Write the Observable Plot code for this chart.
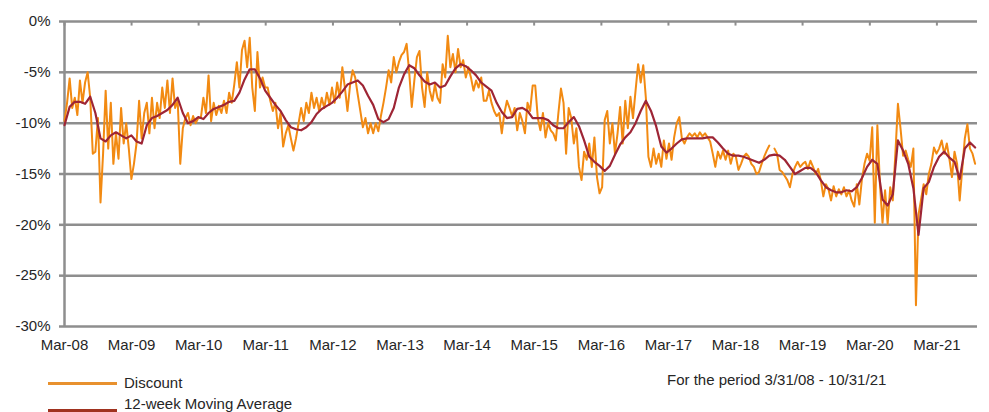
<!DOCTYPE html>
<html><head><meta charset="utf-8">
<script src="https://cdn.jsdelivr.net/npm/d3@7"></script>
<script src="https://cdn.jsdelivr.net/npm/@observablehq/plot@0.6"></script>
<style>
body{margin:0;background:#fff;font-family:"Liberation Sans",Arial,sans-serif;}
#wrap{position:relative;width:989px;height:412px;overflow:hidden;background:#fff;}
#chart{position:absolute;left:0;top:0;}
.lg{position:absolute;font-size:15px;line-height:15px;color:#262626;white-space:nowrap;}
.sw{position:absolute;height:3px;width:69px;}
</style></head><body>
<div id="wrap">
  <div id="chart"></div>
  <div class="sw" style="left:48px;top:382px;background:#E8912E"></div>
  <div class="lg" style="left:124px;top:375px">Discount</div>
  <div class="sw" style="left:48px;top:409px;background:#A0321F"></div>
  <div class="lg" style="left:124px;top:396px">12-week Moving Average</div>
  <div class="lg" style="left:667px;top:372px">For the period 3/31/08 - 10/31/21</div>
</div>
<script>
const startDate = "2008-03-31";
const endDate = "2021-11-07";
const discountStepDays = 14;
const maStepDays = 28;

// Discount (%), one value every 2 weeks from 3/31/08
const discount = [
 -9.8,-8.0,-5.6,-8.5,-7.5,-9.2,-5.8,-8.0,-6.0,-5.0,-7.5,-13.0,-12.8,-9.5,-17.8,-13.0,-6.8,-12.5,-8.0,-14.0,-11.0,-13.5,-8.5,-12.0,-10.0,-12.5,-15.5,
 -14.0,-12.0,-7.8,-11.5,-9.0,-8.0,-11.0,-7.5,-10.5,-8.0,-9.5,-6.5,-8.5,-5.8,-9.0,-5.6,-8.5,-7.8,-14.0,-10.5,-9.5,-9.0,-10.2,-9.3,-10.0,-9.5,
 -9.5,-7.5,-9.0,-5.3,-9.8,-8.0,-9.2,-8.3,-9.0,-7.8,-9.0,-7.0,-8.0,-6.2,-4.0,-6.5,-2.8,-1.9,-4.5,-1.6,-6.5,-8.8,-3.0,-6.5,-5.5,-6.5,
 -6.5,-7.8,-8.8,-8.0,-10.5,-9.0,-12.3,-11.0,-10.2,-11.5,-12.7,-11.5,-10.0,-8.5,-9.8,-8.0,-9.0,-7.0,-8.5,-7.5,-8.8,-7.5,-8.5,-7.0,-8.2,-6.5,
 -8.0,-6.0,-7.5,-4.5,-6.5,-8.8,-6.3,-4.8,-5.5,-7.2,-8.8,-10.4,-9.5,-11.0,-10.0,-11.0,-10.0,-10.8,-9.3,-8.0,-6.5,-4.8,-6.0,-3.5,-5.0,-4.0,
 -3.3,-3.0,-2.2,-5.0,-8.4,-5.8,-3.5,-2.9,-6.5,-8.4,-5.0,-6.8,-7.8,-6.2,-7.5,-8.0,-4.2,-5.5,-1.4,-4.5,-3.2,-5.0,-2.7,-4.5,-3.8,-5.5,
 -4.5,-5.5,-6.8,-5.8,-6.5,-5.5,-7.8,-7.8,-6.8,-8.0,-8.8,-9.3,-9.0,-11.0,-9.0,-7.8,-8.5,-9.3,-8.5,-10.7,-9.0,-9.8,-11.0,-8.0,-8.8,-6.3,
 -6.3,-9.5,-10.7,-9.0,-11.4,-10.0,-10.7,-11.0,-11.7,-9.0,-6.6,-8.0,-13.0,-8.5,-9.5,-12.0,-10.5,-14.3,-15.6,-12.8,-13.6,-12.0,-14.3,-11.4,-15.3,-16.9,-16.3,
 -9.7,-8.8,-12.0,-10.0,-13.0,-11.0,-8.4,-12.0,-7.8,-10.5,-7.4,-9.5,-6.8,-4.2,-6.0,-4.3,-7.5,-13.3,-14.3,-12.5,-14.0,-13.0,-14.3,-11.7,-13.5,-12.0,
 -13.6,-11.4,-10.0,-9.4,-11.5,-12.0,-11.4,-11.0,-11.3,-11.0,-11.4,-10.9,-11.3,-11.0,-11.4,-11.8,-13.0,-14.3,-12.8,-13.5,-12.7,-13.6,-12.7,-14.0,-13.0,-13.3,
 -14.6,-14.0,-13.3,-13.0,-13.3,-14.0,-14.3,-15.0,-14.8,-14.0,-13.3,-12.7,-12.2,null,-12.5,-13.0,-14.6,-14.8,-15.2,-15.6,-16.3,-15.0,-14.3,-13.8,-14.3,-14.0,
 -13.8,-14.5,-13.7,-14.3,-15.0,-14.5,-15.6,-17.2,-16.0,-16.5,-17.6,-16.2,-17.2,-16.5,-17.0,-16.3,-17.2,-16.6,-17.6,-18.2,-16.0,-18.0,-15.5,-14.0,-13.0,-13.7,
 -10.4,-19.8,-10.2,-16.0,-19.8,-16.6,-19.9,-16.3,-17.6,-13.0,-8.1,-10.5,-13.2,-12.7,-13.6,-14.3,-12.5,-27.9,-19.0,-17.5,-16.0,-17.0,-15.0,-14.0,-12.4,-13.0,
 -12.5,-11.7,-13.0,-12.0,-13.5,-15.3,-12.8,-14.0,-17.6,-14.5,-11.5,-10.1,-12.5,-13.0,-14.0
];

// 12-week moving average (%), one value every 4 weeks from 3/31/08
const movingAverage = [
 -10.2,-8.4,-7.9,-7.9,-8.1,-7.4,-9.0,-11.5,-11.8,-11.2,-10.9,-11.2,-11.5,
 -11.2,-11.8,-12.0,-10.2,-9.5,-9.3,-9.0,-8.7,-8.2,-7.5,-9.0,-10.0,-9.8,
 -9.4,-9.6,-9.0,-8.6,-8.4,-8.2,-7.9,-7.8,-7.0,-5.7,-4.7,-4.7,-5.6,
 -6.8,-7.5,-8.2,-8.8,-9.7,-10.4,-10.6,-10.7,-10.4,-9.9,-9.1,-8.6,-8.3,
 -8.0,-7.5,-6.9,-6.2,-6.0,-5.8,-6.3,-7.3,-8.2,-9.6,-9.9,-9.6,-8.5,
 -6.5,-5.2,-4.3,-4.6,-5.3,-5.9,-6.2,-6.0,-6.5,-6.3,-5.4,-4.6,-4.2,
 -4.4,-4.8,-5.3,-6.0,-6.4,-6.8,-8.0,-8.9,-9.5,-9.4,-8.6,-8.5,-8.8,
 -9.5,-9.5,-9.5,-9.7,-10.2,-10.5,-10.5,-9.9,-9.4,-10.3,-11.7,-13.3,-13.8,
 -14.2,-14.7,-14.2,-13.1,-12.1,-11.4,-10.9,-10.0,-8.8,-7.8,-8.8,-10.3,-12.3,
 -12.9,-12.5,-12.0,-11.6,-11.5,-11.5,-11.5,-11.5,-11.4,-11.4,-11.9,-12.5,-13.0,
 -13.2,-13.2,-13.3,-13.5,-13.7,-13.9,-13.6,-13.2,-13.1,-13.2,-13.6,-14.3,-15.0,
 -14.7,-14.4,-14.4,-14.8,-15.6,-16.3,-16.6,-16.8,-16.8,-16.6,-16.7,-16.3,-15.4,
 -14.3,-13.6,-14.0,-17.5,-18.1,-17.0,-11.7,-12.7,-14.0,-16.4,-21.0,-16.4,-15.8,
 -14.3,-13.3,-12.8,-13.4,-13.8,-15.5,-12.5,-11.9,-12.4
];

const tickDates = ["2008-03-31","2009-03-31","2010-03-31","2011-03-31","2012-03-31","2013-03-31","2014-03-31",
  "2015-03-31","2016-03-31","2017-03-31","2018-03-31","2019-03-31","2020-03-31","2021-03-31"];
const yTicks = [0,-5,-10,-15,-20,-25,-30];

const start = new Date(startDate);
const discRows = discount.map((v, i) => ({date: d3.utcDay.offset(start, i * discountStepDays), value: v}));
const maRows = movingAverage.map((v, i) => ({date: d3.utcDay.offset(start, i * maStepDays), value: v}));
const ticks = tickDates.map(s => new Date(s));
const fmt = d3.utcFormat("%b-%y");
const gridColor = "#8e8e8e";

const chart = Plot.plot({
  width: 989, height: 360,
  marginTop: 21, marginBottom: 34, marginLeft: 64, marginRight: 12,
  x: {type: "utc", domain: [start, new Date(endDate)]},
  y: {domain: [-30, 0]},
  style: {fontFamily: "'Liberation Sans', Arial, sans-serif", fontSize: "15px", color: "#262626", background: "transparent"},
  marks: [
    Plot.ruleY(yTicks, {stroke: gridColor, strokeWidth: 2.5}),
    Plot.ruleX([start], {stroke: gridColor, strokeWidth: 2.5}),
    Plot.ruleX(ticks, {y1: 0, y2: -0.45, stroke: gridColor, strokeWidth: 2}),
    Plot.axisY({ticks: yTicks, tickSize: 5, tickPadding: 9, stroke: gridColor, strokeWidth: 2.5, fill: "#262626", tickFormat: d => d + "%", label: null}),
    Plot.axisX({ticks: ticks, tickSize: 0, tickPadding: 13, tickFormat: d => fmt(d), fill: "#262626", label: null}),
    Plot.line(discRows, {x: "date", y: "value", stroke: "#F28A12", strokeWidth: 2}),
    Plot.line(maRows, {x: "date", y: "value", stroke: "#9E2535", strokeWidth: 2.2})
  ]
});
document.getElementById("chart").appendChild(chart);
</script>
</body></html>
